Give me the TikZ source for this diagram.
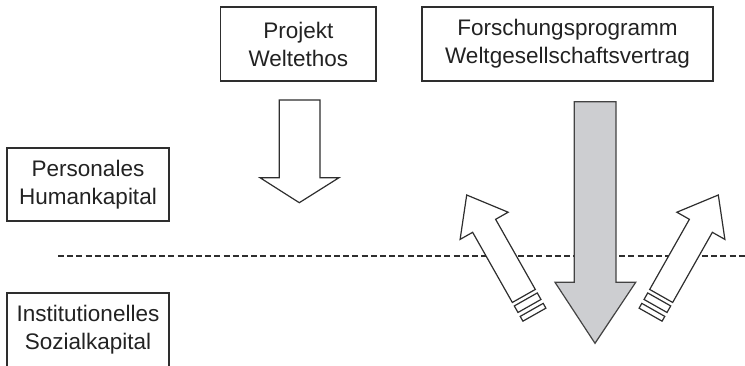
\documentclass[tikz,border=0pt]{standalone}
\usepackage{fontspec}
\setmainfont{Liberation Sans}
\definecolor{linec}{HTML}{2E2E2E}
\definecolor{textc}{HTML}{222222}
\definecolor{arrowfill}{HTML}{CDCED1}
\tikzset{
  box/.style={draw=linec, line width=1.2pt, text=textc, align=center,
    font=\fontsize{22.5}{28}\selectfont, inner sep=0pt},
  outl/.style={draw=linec, line width=1.2pt, line join=miter},
  pics/tiltarrow/.style={code={
    \draw[outl, fill=white] (0,0) -- (-35.4,27.6) -- (-35.4,13.2) -- (-116,13.2)
      -- (-116,-13.2) -- (-35.4,-13.2) -- (-35.4,-27.6) -- cycle;
    \draw[outl, fill=white] (-120,13.2) rectangle (-127.5,-13.2);
    \draw[outl, fill=white] (-132,13.2) rectangle (-137.5,-13.2);
  }}
}
\begin{document}
\begin{tikzpicture}[x=1pt,y=-1pt]
\useasboundingbox (0,0) rectangle (745,366);
% boxes
\node[box, minimum width=155.3pt, minimum height=74pt] (pw) at (298.35,44) {Projekt\\Weltethos};
\node[box, minimum width=291pt, minimum height=74pt] (fw) at (567.5,44) {Forschungsprogramm\\Weltgesellschaftsvertrag};
\node[box, minimum width=162pt, minimum height=73pt] (ph) at (88,184.5) {Personales\\Humankapital};
\node[box, minimum width=162pt, minimum height=74pt] (is) at (88,330) {Institutionelles\\Sozialkapital};
% dashed line
\coordinate (dl) at (58,256);
\coordinate (dr) at (745,256);
\draw[linec, line width=1.2pt, dash pattern=on 6pt off 3.2pt] (dl) -- (dr);
% hollow down arrow
\draw[outl, fill=white] (279.3,100) -- (320,100) -- (320,177.7) -- (339,177.7)
  -- (299.3,202.7) -- (260,177.7) -- (279.3,177.7) -- cycle;
% grey down arrow
\draw[outl, draw=linec!90, fill=arrowfill] (574.3,101.7) -- (616,101.7) -- (616,282.3) -- (635.7,282.3)
  -- (595,343.3) -- (555,282.3) -- (574.3,282.3) -- cycle;
% tilted arrows
\pic[rotate=119.5] at (466.7,195) {tiltarrow};
\pic[rotate=60.5] at (718.3,195) {tiltarrow};
\end{tikzpicture}
\end{document}
